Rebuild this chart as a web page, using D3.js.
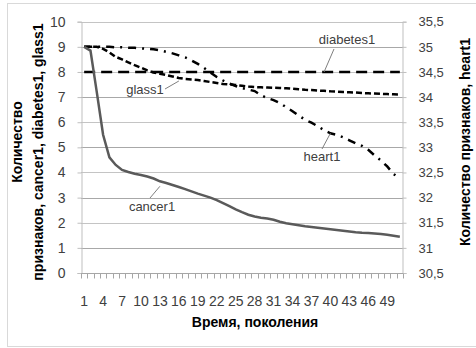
<!DOCTYPE html>
<html>
<head>
<meta charset="utf-8">
<script src="https://cdn.jsdelivr.net/npm/d3@7"></script>
<style>
  body { margin: 0; background: #fff; }
  svg { display: block; font-family: "Liberation Sans", Arial, sans-serif; }
</style>
</head>
<body>
<svg></svg>
<script>
// generations 1..51
var generations = d3.range(1, 52);
var xLabels = d3.range(1, 52, 3);

var cancer1 = [9, 8.85, 7.2, 5.5, 4.6, 4.3, 4.1, 4.02, 3.95, 3.9, 3.84, 3.76, 3.65, 3.58, 3.5,
  3.42, 3.34, 3.25, 3.16, 3.08, 3.0, 2.9, 2.78, 2.66, 2.53, 2.42, 2.32, 2.25, 2.2, 2.17,
  2.12, 2.04, 1.98, 1.94, 1.9, 1.86, 1.83, 1.8, 1.77, 1.74, 1.71, 1.68, 1.65, 1.62, 1.6,
  1.59, 1.57, 1.55, 1.52, 1.48, 1.44];

var diabetes1 = generations.map(function(){ return 8; });

var glass1 = [9, 9, 9, 8.92, 8.78, 8.6, 8.5, 8.38, 8.27, 8.17, 8.06, 7.98, 7.93, 7.88, 7.82,
  7.76, 7.72, 7.7, 7.68, 7.64, 7.6, 7.56, 7.52, 7.5, 7.48, 7.45, 7.42, 7.4, 7.39, 7.38,
  7.37, 7.36, 7.35, 7.33, 7.31, 7.29, 7.28, 7.26, 7.25, 7.23, 7.22, 7.2, 7.19, 7.18, 7.16,
  7.15, 7.14, 7.13, 7.12, 7.11, 7.1];

// heart1 is on the right axis
var heart1 = [35, 35, 35, 35, 35, 34.99, 34.99, 34.98, 34.98, 34.97, 34.96, 34.95, 34.93, 34.9, 34.87,
  34.83, 34.79, 34.73, 34.66, 34.58, 34.49, 34.4, 34.33, 34.27, 34.22, 34.18, 34.15, 34.12, 34.04, 33.98,
  33.94, 33.88, 33.8, 33.72, 33.63, 33.55, 33.49, 33.42, 33.34, 33.28, 33.25, 33.2, 33.14, 33.08, 33.03,
  32.95, 32.84, 32.74, 32.62, 32.47, 32.38];

var leftTicks = d3.range(0, 11, 1);
var rightTicks = d3.range(30.5, 35.6, 0.5);

var screen = {width: 476, height: 348};
var plot = {left: 81, right: 403, top: 21.7, bottom: 273};

var svg = d3.select("svg")
  .attr("width", screen.width)
  .attr("height", screen.height);

// outer chart frame
svg.append("rect")
  .attr("x", 7.5).attr("y", 3.5)
  .attr("width", 480).attr("height", 343)
  .attr("fill", "none").attr("stroke", "#d9d9d9");

var xScale = d3.scaleBand().domain(generations).range([plot.left, plot.right]).padding(0);
var yLeft = d3.scaleLinear().domain([0, 10]).range([plot.bottom, plot.top]);
var yRight = d3.scaleLinear().domain([30.5, 35.5]).range([plot.bottom, plot.top]);
var cx = function(g){ return xScale(g) + xScale.bandwidth() / 2; };

// gridlines
svg.append("g").selectAll("line")
  .data(leftTicks.filter(function(d){ return d > 0; }))
  .enter().append("line")
  .attr("x1", plot.left).attr("x2", plot.right)
  .attr("y1", function(d){ return Math.round(yLeft(d)) + 0.5; })
  .attr("y2", function(d){ return Math.round(yLeft(d)) + 0.5; })
  .attr("stroke", function(d, i){ return i % 2 ? "#c4c4c4" : "#a8a8a8"; });

// left axis
var yAxisL = d3.axisLeft(yLeft).tickValues(leftTicks).tickSize(4).tickPadding(12);
var gL = svg.append("g").attr("transform", "translate(" + (plot.left + 0.5) + ",0)").call(yAxisL);
// right axis
var yAxisR = d3.axisRight(yRight).tickValues(rightTicks).tickSize(4).tickPadding(12)
  .tickFormat(function(d){ return d3.format(".1~f")(d).replace(".", ","); });
var gR = svg.append("g").attr("transform", "translate(" + (plot.right - 0.5) + ",0)").call(yAxisR);

[gL, gR].forEach(function(g){
  g.select(".domain").attr("stroke", "#bfbfbf");
  g.selectAll(".tick line").attr("stroke", "#bfbfbf");
  g.selectAll(".tick text").attr("fill", "#404040").style("font-size", "14px");
});
gR.selectAll(".tick text").style("font-size", "13px");

// bottom axis: ticks at category boundaries, labels every 3rd
var gx = svg.append("g").attr("transform", "translate(0," + (plot.bottom + 0.5) + ")");
gx.append("line")
  .attr("x1", plot.left).attr("x2", plot.right)
  .attr("stroke", "#a6a6a6");
gx.selectAll("line.tk")
  .data(generations.concat([52]))
  .enter().append("line").attr("class", "tk")
  .attr("x1", function(d){ return Math.round(d === 52 ? plot.right : xScale(d)) + 0.5; })
  .attr("x2", function(d){ return Math.round(d === 52 ? plot.right : xScale(d)) + 0.5; })
  .attr("y1", 0).attr("y2", 5)
  .attr("stroke", "#a6a6a6");
gx.selectAll("text")
  .data(xLabels)
  .enter().append("text")
  .attr("x", function(d){ return cx(d); })
  .attr("y", 32)
  .attr("text-anchor", "middle")
  .attr("fill", "#404040")
  .style("font-size", "14px")
  .text(function(d){ return d; });

// lines
var lineL = d3.line().x(function(d, i){ return cx(generations[i]); }).y(function(d){ return yLeft(d); });
var lineR = d3.line().x(function(d, i){ return cx(generations[i]); }).y(function(d){ return yRight(d); });

var series = [
  {name: "diabetes1", data: diabetes1, gen: lineL, color: "#000", width: 2.5, dash: "11,6"},
  {name: "glass1", data: glass1, gen: lineL, color: "#000", width: 2.5, dash: "6,3"},
  {name: "heart1", data: heart1, gen: lineR, color: "#000", width: 2.5, dash: "8,6,2,6"},
  {name: "cancer1", data: cancer1, gen: lineL, color: "#5a5a5a", width: 2.5, dash: null}
];

svg.append("g").selectAll("path")
  .data(series)
  .enter().append("path")
  .attr("d", function(d){ return d.gen(d.data); })
  .attr("fill", "none")
  .attr("stroke", function(d){ return d.color; })
  .attr("stroke-width", function(d){ return d.width; })
  .attr("stroke-dasharray", function(d){ return d.dash; });

// data labels with leader lines
var labels = [
  {text: "diabetes1", g: 39, v: yLeft(diabetes1[38]), tx: 347, ty: 44, lx: 334, ly: 49},
  {text: "glass1", g: 16, v: yLeft(glass1[15]) + 3, tx: 145, ty: 94, lx: 165, ly: 89},
  {text: "heart1", g: 40, v: yRight(heart1[39]), tx: 322, ty: 161, lx: 322, ly: 149},
  {text: "cancer1", g: 13, v: yLeft(cancer1[12]) + 5, tx: 152, ty: 211, lx: 150, ly: 198}
];
var lab = svg.append("g");
lab.selectAll("line")
  .data(labels)
  .enter().append("line")
  .attr("x1", function(d){ return d.lx; }).attr("y1", function(d){ return d.ly; })
  .attr("x2", function(d){ return cx(d.g); }).attr("y2", function(d){ return d.v; })
  .attr("stroke", "#7f7f7f").attr("stroke-width", 1);
lab.selectAll("text")
  .data(labels)
  .enter().append("text")
  .attr("x", function(d){ return d.tx; }).attr("y", function(d){ return d.ty; })
  .attr("text-anchor", "middle")
  .attr("fill", "#404040")
  .style("font-size", "13px")
  .text(function(d){ return d.text; });

// axis titles
svg.append("text")
  .attr("x", 255).attr("y", 327)
  .attr("text-anchor", "middle")
  .style("font-size", "14px").style("font-weight", "bold")
  .text("Время, поколения");

svg.append("text")
  .attr("transform", "translate(22,142) rotate(-90)")
  .attr("text-anchor", "middle")
  .style("font-size", "14px").style("font-weight", "bold")
  .text("Количество");
svg.append("text")
  .attr("transform", "translate(43,152) rotate(-90)")
  .attr("text-anchor", "middle")
  .style("font-size", "14px").style("font-weight", "bold")
  .text("признаков, cancer1, diabetes1, glass1");

svg.append("text")
  .attr("transform", "translate(470,142) rotate(-90)")
  .attr("text-anchor", "middle")
  .style("font-size", "14px").style("font-weight", "bold")
  .text("Количество признаков, heart1");
</script>
</body>
</html>
